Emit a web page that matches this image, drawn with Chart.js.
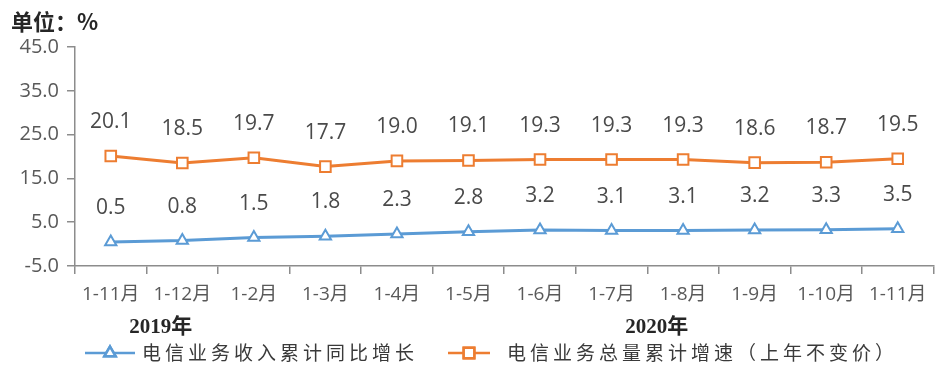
<!DOCTYPE html>
<html lang="zh">
<head>
<meta charset="UTF-8">
<title>电信业务增长</title>
<script src="https://cdn.jsdelivr.net/npm/chart.js"></script>
<style>
  body { margin: 0; background: #fff; }
  #wrap { width: 943px; height: 365px; position: relative; }
</style>
</head>
<body>
<div id="wrap"><canvas id="chart"></canvas></div>
<script>
const months = ['1-11月', '1-12月', '1-2月', '1-3月', '1-4月', '1-5月', '1-6月', '1-7月', '1-8月', '1-9月', '1-10月', '1-11月'];
const revenueGrowth = [0.5, 0.8, 1.5, 1.8, 2.3, 2.8, 3.2, 3.1, 3.1, 3.2, 3.3, 3.5];
const volumeGrowth = [20.1, 18.5, 19.7, 17.7, 19.0, 19.1, 19.3, 19.3, 19.3, 18.6, 18.7, 19.5];
const yearLabels = ['2019年', '2020年'];
const yearCenterIndex = [0.7, 7.63];
const seriesNames = ['电信业务收入累计同比增长', '电信业务总量累计增速（上年不变价）'];

const BLUE = '#5b9bd5';
const ORANGE = '#ed7d31';
const AXIS = '#8c8c8c';
const TEXT = '#595959';
const SANS = '"Open Sans", "Noto Sans CJK SC", sans-serif';

// value labels above each point
const valueLabels = {
  id: 'valueLabels',
  afterDatasetsDraw(chart) {
    const ctx = chart.ctx;
    ctx.save();
    ctx.font = '21px ' + SANS;
    ctx.fillStyle = '#4a4a4a';
    ctx.textAlign = 'center';
    ctx.textBaseline = 'middle';
    chart.data.datasets.forEach((ds, i) => {
      chart.getDatasetMeta(i).data.forEach((pt, j) => {
        ctx.fillText(ds.data[j].toFixed(1), pt.x, pt.y - 34);
      });
    });
    ctx.restore();
  }
};

// unit title, year labels and the legend under the axis
const extras = {
  id: 'extras',
  afterDraw(chart) {
    const ctx = chart.ctx;
    const x = chart.scales.x;
    ctx.save();
    ctx.fillStyle = '#262626';
    ctx.font = 'bold 22px "Noto Sans CJK SC", sans-serif';
    ctx.textAlign = 'left';
    ctx.textBaseline = 'middle';
    ctx.fillText('单位：%', 11, 22);

    ctx.font = 'bold 21px "Liberation Serif", "Noto Sans CJK SC", serif';
    ctx.textAlign = 'center';
    yearLabels.forEach((t, i) => {
      ctx.fillText(t, x.getPixelForValue(yearCenterIndex[i]), 328);
    });

    const ly = 353;
    const items = [
      { color: BLUE, style: 'triangle', r: 6.5, x0: 85, x1: 135, tx: 142 },
      { color: ORANGE, style: 'rect', r: 7.5, x0: 448, x1: 490, tx: 507 }
    ];
    items.forEach((it, i) => {
      ctx.strokeStyle = it.color;
      ctx.lineWidth = 2.5;
      ctx.beginPath();
      ctx.moveTo(it.x0, ly);
      ctx.lineTo(it.x1, ly);
      ctx.stroke();
      ctx.fillStyle = '#fff';
      Chart.helpers.drawPoint(ctx, { pointStyle: it.style, radius: it.r, borderWidth: 2 }, (it.x0 + it.x1) / 2, ly);
      ctx.fill();
      ctx.stroke();
      ctx.fillStyle = '#3a3a3a';
      ctx.font = '19px "Noto Sans CJK SC", sans-serif';
      ctx.letterSpacing = '4px';
      ctx.textAlign = 'left';
      ctx.fillText(seriesNames[i], it.tx, ly);
    });
    ctx.restore();
  }
};

new Chart(document.getElementById('chart'), {
  type: 'line',
  data: {
    labels: months,
    datasets: [
      {
        label: seriesNames[0],
        data: revenueGrowth,
        borderColor: BLUE,
        backgroundColor: '#fff',
        borderWidth: 3,
        pointStyle: 'triangle',
        pointRadius: 6.5,
        pointBorderWidth: 2,
        tension: 0
      },
      {
        label: seriesNames[1],
        data: volumeGrowth,
        borderColor: ORANGE,
        backgroundColor: '#fff',
        borderWidth: 3,
        pointStyle: 'rect',
        pointRadius: 7.5,
        pointBorderWidth: 2,
        tension: 0
      }
    ]
  },
  options: {
    responsive: true,
    maintainAspectRatio: false,
    animation: false,
    layout: { padding: { top: 47, right: 5, left: 0, bottom: 0 } },
    plugins: {
      legend: { display: false },
      tooltip: { enabled: false }
    },
    scales: {
      x: {
        offset: true,
        grid: { offset: true, drawOnChartArea: false, drawTicks: true, tickLength: 8, color: AXIS, lineWidth: 1.5 },
        border: { display: true, color: AXIS, width: 1.5 },
        ticks: { color: TEXT, font: { size: 19, family: SANS }, padding: 9, maxRotation: 0, autoSkip: false },
        afterFit(s) { s.height = 99; }
      },
      y: {
        min: -5,
        max: 45,
        ticks: {
          stepSize: 10,
          color: TEXT,
          font: { size: 20, family: SANS },
          padding: 8,
          callback: v => v.toFixed(1)
        },
        grid: { drawOnChartArea: false, drawTicks: true, tickLength: 8, color: AXIS, lineWidth: 1.5 },
        border: { display: true, color: AXIS, width: 1.5 },
        afterFit(s) { s.width = 75; }
      }
    }
  },
  plugins: [valueLabels, extras]
});
</script>
</body>
</html>
